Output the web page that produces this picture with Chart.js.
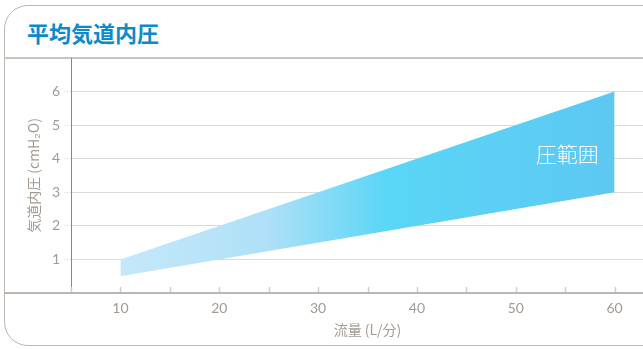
<!DOCTYPE html>
<html lang="ja">
<head>
<meta charset="utf-8">
<title>平均気道内圧</title>
<script src="https://cdn.jsdelivr.net/npm/chart.js@4"></script>
<style>
  html, body {
    margin: 0;
    padding: 0;
    width: 643px;
    height: 349px;
    overflow: hidden;
    background: #ffffff;
  }
  .panel {
    position: absolute;
    left: 4px;
    top: 5px;
    width: 700px;
    height: 341px;
    border: 1.5px solid #bdb7b2;
    border-radius: 24px;
    box-sizing: border-box;
  }
  .title {
    position: absolute;
    left: 4px;
    top: 5px;
    width: 700px;
    height: 54px;
    border-bottom: 2px solid #cac4bf;
    box-sizing: border-box;
  }
  .title span {
    position: absolute;
    left: 23px;
    top: 13px;
    font-family: "Noto Sans CJK JP", sans-serif;
    font-weight: 700;
    font-size: 22px;
    line-height: 28px;
    color: #0b8cc8;
  }
  #chart {
    position: absolute;
    left: 0;
    top: 0;
  }
</style>
</head>
<body>
<div class="panel"></div>
<div class="title"><span>平均気道内圧</span></div>
<canvas id="chart" width="680" height="349"></canvas>
<script>
// 流量 (L/分) と圧範囲の上限・下限
const flowValues = [10, 60];
const upperPressure = [1, 6];
const lowerPressure = [0.5, 3];

const xTickLabels = [10, 20, 30, 40, 50, 60];
const yTickLabels = [1, 2, 3, 4, 5, 6];

const bandLabel = "圧範囲";
const bandLabelAt = { x: 55.2, y: 4.15 };

const tickFont = { family: "Lato, 'Noto Sans', sans-serif", size: 14 };
const titleFont = { family: "'Noto Sans CJK JP', sans-serif", size: 14 };
const textColor = "#a39a92";

function toPoints(xs, ys) {
  return xs.map((x, i) => ({ x: x, y: ys[i] }));
}

function bandGradient(context) {
  const chart = context.chart;
  const area = chart.chartArea;
  if (!area) {
    return "#5ad5f6";
  }
  const xScale = chart.scales.x;
  const x0 = xScale.getPixelForValue(flowValues[0]);
  const x1 = xScale.getPixelForValue(flowValues[flowValues.length - 1]);
  const gradient = chart.ctx.createLinearGradient(x0, 0, x1, 0);
  gradient.addColorStop(0, "#c6e8f9");
  gradient.addColorStop(0.3, "#aee0f7");
  gradient.addColorStop(0.54, "#5ad6f6");
  gradient.addColorStop(1, "#5dc8f2");
  return gradient;
}

// x軸の線と目盛り、圧範囲ラベル
const axisDecor = {
  id: "axisDecor",
  afterDatasetsDraw(chart) {
    const ctx = chart.ctx;
    const area = chart.chartArea;
    const xScale = chart.scales.x;
    const yScale = chart.scales.y;

    ctx.save();
    ctx.strokeStyle = "#d2cdc8";
    ctx.lineWidth = 1.5;
    xScale.ticks.forEach((tick) => {
      const px = Math.round(xScale.getPixelForValue(tick.value)) + 0.5;
      ctx.beginPath();
      ctx.moveTo(px, area.bottom);
      ctx.lineTo(px, area.bottom - 6);
      ctx.stroke();
    });

    ctx.strokeStyle = "#bdb6b0";
    ctx.lineWidth = 2;
    ctx.beginPath();
    ctx.moveTo(4, area.bottom);
    ctx.lineTo(chart.width, area.bottom);
    ctx.stroke();

    ctx.fillStyle = "#ffffff";
    ctx.font = "300 21px 'Noto Sans CJK JP', sans-serif";
    ctx.textAlign = "center";
    ctx.textBaseline = "middle";
    ctx.fillText(
      bandLabel,
      xScale.getPixelForValue(bandLabelAt.x),
      yScale.getPixelForValue(bandLabelAt.y)
    );
    ctx.restore();
  },
};

new Chart(document.getElementById("chart"), {
  type: "line",
  data: {
    datasets: [
      {
        label: "上限",
        data: toPoints(flowValues, upperPressure),
        borderWidth: 0,
        pointRadius: 0,
        fill: "+1",
        backgroundColor: bandGradient,
      },
      {
        label: "下限",
        data: toPoints(flowValues, lowerPressure),
        borderWidth: 0,
        pointRadius: 0,
        fill: false,
      },
    ],
  },
  options: {
    responsive: false,
    animation: false,
    events: [],
    layout: {
      padding: { top: 58, right: 16, left: 0, bottom: 0 },
    },
    plugins: {
      legend: { display: false },
      tooltip: { enabled: false },
    },
    scales: {
      x: {
        type: "linear",
        min: 5,
        max: 65,
        afterFit(scale) {
          scale.height = 56;
        },
        afterBuildTicks(scale) {
          const ticks = [];
          for (let v = 5; v <= 60; v += 5) {
            ticks.push({ value: v });
          }
          scale.ticks = ticks;
        },
        border: { display: false },
        grid: { display: false, drawTicks: false },
        ticks: {
          autoSkip: false,
          maxRotation: 0,
          padding: 7,
          color: textColor,
          font: tickFont,
          callback: (value) => (xTickLabels.includes(value) ? value : ""),
        },
        title: {
          display: true,
          text: "流量 (L/分)",
          color: textColor,
          font: titleFont,
          padding: { top: 0, bottom: 11 },
        },
      },
      y: {
        type: "linear",
        min: 0,
        max: 7,
        afterFit(scale) {
          scale.width = 71;
        },
        afterBuildTicks(scale) {
          scale.ticks = yTickLabels.map((v) => ({ value: v }));
        },
        border: { display: true, color: "#8f877f", width: 1 },
        grid: {
          color: "#dcd9d6",
          lineWidth: 1,
          tickLength: 7,
          tickColor: "#dcd9d6",
          borderDash: [1, 2],
          tickBorderDash: [1, 2],
        },
        ticks: {
          padding: 4,
          color: textColor,
          font: tickFont,
        },
        title: {
          display: true,
          text: "気道内圧 (cmH₂O)",
          color: textColor,
          font: titleFont,
          padding: { top: 25, bottom: 0 },
        },
      },
    },
  },
  plugins: [axisDecor],
});
</script>
</body>
</html>
